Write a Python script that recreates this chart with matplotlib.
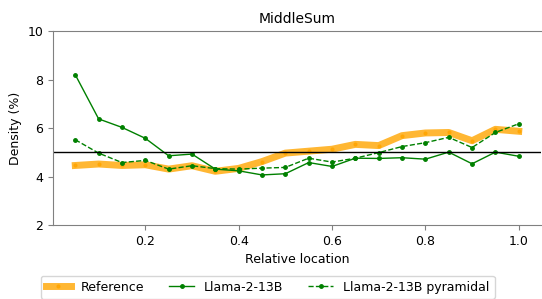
import numpy as np
import matplotlib
matplotlib.use('Agg')
from matplotlib import pyplot as plt

# relative location of the needle
loc = [0.05, 0.1, 0.15, 0.2, 0.25, 0.3, 0.35, 0.4, 0.45, 0.5,
       0.55, 0.6, 0.65, 0.7, 0.75, 0.8, 0.85, 0.9, 0.95, 1.0]

reference = [4.46, 4.52, 4.46, 4.49, 4.31, 4.45, 4.22, 4.34, 4.62, 4.97,
             5.05, 5.13, 5.33, 5.28, 5.69, 5.80, 5.82, 5.48, 5.95, 5.87]
llama = [8.20, 6.38, 6.03, 5.58, 4.86, 4.93, 4.31, 4.24, 4.07, 4.12,
         4.58, 4.42, 4.76, 4.75, 4.78, 4.72, 5.01, 4.53, 5.01, 4.84]
llama_pyr = [5.52, 4.97, 4.58, 4.67, 4.31, 4.45, 4.33, 4.31, 4.35, 4.38,
             4.76, 4.60, 4.76, 4.99, 5.24, 5.40, 5.62, 5.20, 5.82, 6.18]

fig, ax = plt.subplots(figsize=(5.42, 2.99), dpi=100)
fig.subplots_adjust(left=0.098, right=0.998, top=0.896, bottom=0.247)

ax.plot(loc, reference, color='orange', alpha=0.8, lw=5, marker='.', markersize=4, label='Reference')
ax.plot(loc, llama, color='green', lw=1, marker='.', markersize=5, label='Llama-2-13B')
ax.plot(loc, llama_pyr, color='green', lw=1, ls='--', marker='.', markersize=5, label='Llama-2-13B pyramidal')
ax.axhline(5, color='black', lw=1)

ax.set_ylim(2, 10)
ax.set_yticks([2, 4, 6, 8, 10])
ax.set_title('MiddleSum', fontsize=10)
ax.set_xlabel('Relative location', fontsize=9)
ax.set_ylabel('Density (%)', fontsize=9)
ax.tick_params(labelsize=9, color='#808080')
for s in ax.spines.values():
    s.set_color('#808080')
ax.spines['right'].set_visible(False)
ax.legend(ncol=3, loc='upper center', bbox_to_anchor=(0.44, -0.229), fontsize=9)

plt.savefig('out.png', dpi=100)
